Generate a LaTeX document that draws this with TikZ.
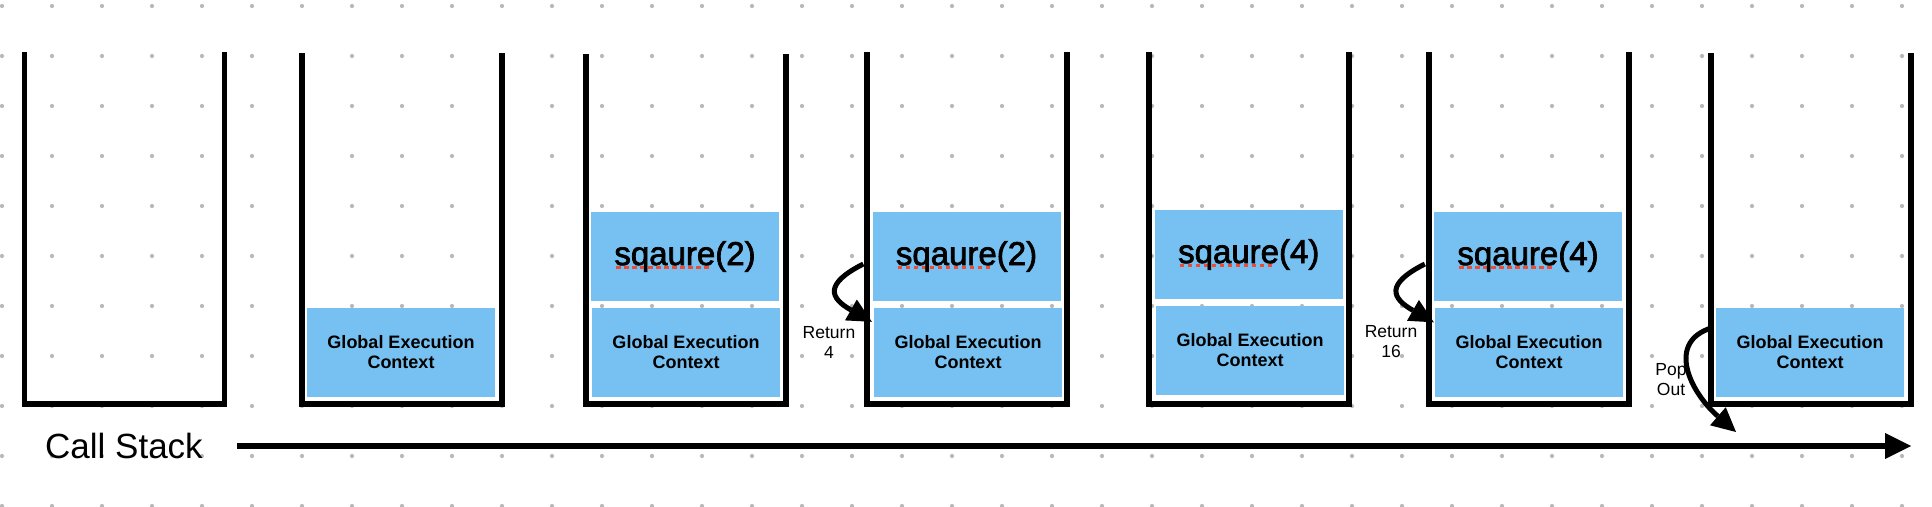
\documentclass[tikz,border=0pt]{standalone}
\usepackage{fontspec}
\setmainfont{Liberation Sans}
\newfontfamily\medsans[FakeBold=2.2]{Liberation Sans}
\usetikzlibrary{arrows.meta,calc}
\definecolor{boxblue}{RGB}{118,193,241}
\definecolor{dotgray}{RGB}{185,185,185}
\definecolor{sqred}{RGB}{235,75,55}
\newsavebox\wordbox
\newcommand\misspelt[1]{\sbox\wordbox{#1}\leavevmode\rlap{\raisebox{-4.2pt}{\textcolor{sqred}{\leaders\hbox to 8pt{\hss\rule{4.5pt}{3pt}\hss}\hskip\wd\wordbox}}}\usebox\wordbox}
\begin{document}
\begin{tikzpicture}[x=1pt,y=-1pt,
  wall/.style={line width=5.5pt, line join=miter, line cap=butt},
  ctx/.style={fill=boxblue, minimum width=188pt, minimum height=89pt, inner sep=0pt, align=center, font=\fontsize{18}{20}\selectfont\bfseries},
  fn/.style={fill=boxblue, minimum width=188pt, minimum height=89pt, inner sep=0pt, font=\fontsize{33}{38}\selectfont\medsans},
  lbl/.style={align=center, inner sep=0pt, font=\fontsize{17.5}{20}\selectfont},
  curly/.style={line width=5pt, -{Triangle[length=24pt,width=24pt,line width=0pt]}},
  timeline/.style={line width=5.5pt, -{Triangle[length=26pt,width=26pt,line width=0pt]}}
]
\fill[white] (0,0) rectangle (1932,506);
\useasboundingbox (0,0) rectangle (1932,506);
\foreach \i in {0,...,38} \foreach \j in {0,...,10} \fill[dotgray] (2+50*\i, 6+50*\j) circle (2.1pt);

% blue context boxes
\node[ctx] (g2) at (401,352.5) {Global Execution\\Context};
\node[fn]  (f3) at (685,256.5) {\misspelt{sqaure}(2)};
\node[ctx] (g3) at (686,352.5) {Global Execution\\Context};
\node[fn]  (f4) at (966.5,256.5) {\misspelt{sqaure}(2)};
\node[ctx] (g4) at (968,352.5) {Global Execution\\Context};
\node[fn]  (f5) at (1248.75,254.5) {\misspelt{sqaure}(4)};
\node[ctx] (g5) at (1250,350.5) {Global Execution\\Context};
\node[fn]  (f6) at (1528,256.5) {\misspelt{sqaure}(4)};
\node[ctx] (g6) at (1529,352.5) {Global Execution\\Context};
\node[ctx] (g7) at (1810,352) {Global Execution\\Context};

% stack walls
\foreach \l/\t in {24.6/52, 302/53, 586/54, 867/52, 1149/52, 1429/52, 1711/53}
  \draw[wall] (\l,\t) -- (\l,404) -- (\l+200,404) -- (\l+200,\t);

% labels
\node[lbl] (r1) at (829,342) {Return\\4};
\node[lbl] (r2) at (1391,342) {Return\\16};
\node[lbl] (po) at (1671,380) {Pop\\Out};
\node[font=\fontsize{35}{40}\selectfont, inner sep=0pt] (cs) at (124,446) {Call Stack};

% return arrows
\draw[curly] ($(f4.west)+(-9,7.5)$) .. controls ($(f4.west)+(-48.5,27.5)$) and ($(f4.west)+(-42.5,41.5)$) .. ($(g4.north west)+(-2,14)$);
\draw[curly] ($(f6.west)+(-9,7.5)$) .. controls ($(f6.west)+(-48.5,27.5)$) and ($(f6.west)+(-42.5,41.5)$) .. ($(g6.north west)+(-1,14.5)$);

% pop arrow
\coordinate (popend) at (1736,432);
\draw[curly] ($(g7.north west)+(-4,20.5)$) .. controls ($(g7.north west)+(-50,34.5)$) and ($(g7.north west)+(-26,84.5)$) .. (popend);

% timeline
\coordinate (tlend) at (1911,446);
\draw[timeline, shorten <=34pt] (cs.east) -- (tlend);
\end{tikzpicture}
\end{document}
